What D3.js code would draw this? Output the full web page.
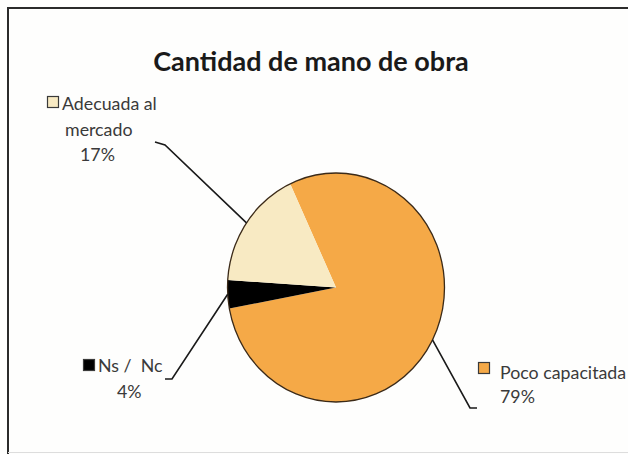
<!DOCTYPE html>
<html><head><meta charset="utf-8">
<script src="https://cdn.jsdelivr.net/npm/d3@7"></script>
<style>
html,body{margin:0;padding:0;background:#fefefd;}
svg{display:block;}
</style></head>
<body>
<script>
const title = "Cantidad de mano de obra";
const categories = ["Poco capacitada", "Ns /  Nc", "Adecuada al mercado"];
const values = [79, 4, 17];
const colors = ["#F5A947", "#000000", "#F8EAC3"];

const W = 628, H = 454;
const svg = d3.select("body").append("svg").attr("width", W).attr("height", H);

// frame
svg.append("path").attr("d", `M8,${H+5} L8,8 L${W+5},8`)
  .attr("fill","none").attr("stroke","#2b2b2b").attr("stroke-width",2);
svg.append("line").attr("x1",8).attr("x2",W).attr("y1",452.5).attr("y2",452.5)
  .attr("stroke","#ddd").attr("stroke-width",1);

svg.append("text").attr("x", 311).attr("y", 71).attr("text-anchor","middle")
  .attr("font-family","Lato, 'Open Sans', sans-serif").attr("font-weight","bold")
  .attr("font-size", 27).attr("fill","#1a1a1a").text(title);

const cx = 336, cy = 287.5, r = 108.5, sy = 114.5/108.5;
const data = categories.map((c,i)=>({name:c, value:values[i], color:colors[i]}));
const pie = d3.pie().value(d=>d.value).sort(null)
  .startAngle(-25*Math.PI/180).endAngle(-25*Math.PI/180 + 2*Math.PI);
const arcs = pie(data);
const arc = d3.arc().innerRadius(0).outerRadius(r);

const g = svg.append("g").attr("transform", `translate(${cx},${cy}) scale(1,${sy})`);
g.selectAll("path.slice").data(arcs).join("path").attr("class","slice")
  .attr("d", arc).attr("fill", d=>d.data.color).attr("stroke","none");
g.append("ellipse").attr("rx", r).attr("ry", r).attr("fill","none")
  .attr("stroke","#3b2a18").attr("stroke-width",1.3).attr("vector-effect","non-scaling-stroke");

// label layout (positions only)
const layout = {
  "Poco capacitada": {elbow:[470,408], end:[477,408], box:[478,362], lines:[[500,"Poco capacitada",379],[500,"79%",403]]},
  "Ns /  Nc": {elbow:[172,379], end:[165,379], box:[83,359], lines:[[98,"Ns /  Nc",372],[117,"4%",398]]},
  "Adecuada al mercado": {elbow:[165,145], end:[155,142], box:[47,96], lines:[[62,"Adecuada al",110],[65,"mercado",136],[80,"17%",161]]}
};

const fontLab = "Lato, 'Open Sans', sans-serif";
arcs.forEach((a,i)=>{
  const L = layout[a.data.name];
  const mid = (a.startAngle + a.endAngle)/2;
  const px = cx + Math.sin(mid)*r, py = cy - Math.cos(mid)*r*sy;
  svg.append("polyline")
    .attr("points", `${px},${py} ${L.elbow[0]},${L.elbow[1]} ${L.end[0]},${L.end[1]}`)
    .attr("fill","none").attr("stroke","#1a1a1a").attr("stroke-width",1.6);
  svg.append("rect").attr("x",L.box[0]+0.5).attr("y",L.box[1]+0.5).attr("width",11).attr("height",11)
    .attr("fill", a.data.color).attr("stroke","#3a3a3a").attr("stroke-width",1.2);
  L.lines.forEach(([x,t,y])=>{
    svg.append("text").attr("x",x).attr("y",y).attr("font-family",fontLab)
      .attr("font-size",17.8).attr("fill","#3a3a3a").attr("xml:space","preserve")
      .style("white-space","pre").text(t);
  });
});
</script>
</body></html>
